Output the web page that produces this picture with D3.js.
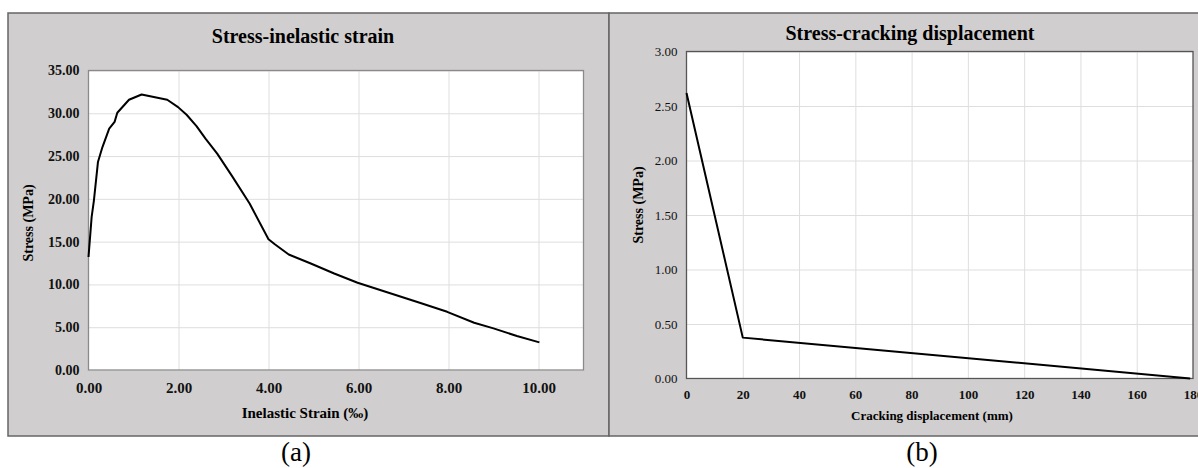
<!DOCTYPE html>
<html><head><meta charset="utf-8">
<script src="https://cdn.jsdelivr.net/npm/d3@7"></script>
<style>
html,body{margin:0;padding:0;background:#fff;}
svg{display:block;font-family:"Liberation Serif","Times New Roman",serif;}
</style></head>
<body>
<svg id="chart" width="1198" height="468"></svg>
<script>
// ---- Data: panel (a) Stress-inelastic strain ----
const strainA = [0.00,0.07,0.12,0.21,0.31,0.46,0.58,0.64,0.90,1.18,1.75,1.99,2.18,2.40,2.60,2.86,3.18,3.58,4.00,4.14,4.45,4.94,5.46,5.98,6.67,7.36,7.97,8.57,9.00,9.52,10.02];
const stressA = [13.2,17.9,19.8,24.3,26.05,28.2,29.0,30.06,31.58,32.2,31.58,30.72,29.83,28.5,27.03,25.28,22.75,19.45,15.28,14.7,13.5,12.45,11.28,10.19,9.02,7.85,6.8,5.52,4.86,3.97,3.23];
const xTicksA = [0,2,4,6,8,10];
const yTicksA = [0,5,10,15,20,25,30,35];
// ---- Data: panel (b) Stress-cracking displacement ----
const dispB = [0,20,179];
const stressB = [2.62,0.375,0];
const xTicksB = [0,20,40,60,80,100,120,140,160,180];
const yTicksB = [0,0.5,1,1.5,2,2.5,3];

const svg = d3.select("#chart");
const GRAY = "#d0cece", BORDER = "#666", GRID = "#dedede";

// panel backgrounds
svg.append("rect").attr("x",8).attr("y",13).attr("width",601).attr("height",423)
  .attr("fill",GRAY).attr("stroke",BORDER).attr("stroke-width",1.5);
svg.append("rect").attr("x",609).attr("y",13).attr("width",595).attr("height",423)
  .attr("fill",GRAY).attr("stroke",BORDER).attr("stroke-width",1.5);

function panel(o){
  const g = svg.append("g");
  const x = d3.scaleLinear().domain(o.xd).range([o.l,o.r]);
  const y = d3.scaleLinear().domain(o.yd).range([o.b,o.t]);
  g.append("rect").attr("x",o.l).attr("y",o.t).attr("width",o.r-o.l).attr("height",o.b-o.t).attr("fill","#fff");
  // grid
  g.append("g").attr("transform",`translate(0,${o.b})`)
    .call(d3.axisBottom(x).tickValues(o.xGrid).tickSize(-(o.b-o.t)).tickFormat(""))
    .call(s=>{s.select(".domain").remove(); s.selectAll("line").attr("stroke",GRID);});
  g.append("g").attr("transform",`translate(${o.l},0)`)
    .call(d3.axisLeft(y).tickValues(o.yt).tickSize(-(o.r-o.l)).tickFormat(""))
    .call(s=>{s.select(".domain").remove(); s.selectAll("line").attr("stroke",GRID);});
  // border
  g.append("rect").attr("x",o.l).attr("y",o.t).attr("width",o.r-o.l).attr("height",o.b-o.t)
    .attr("fill","none").attr("stroke",o.borderColor).attr("stroke-width",1.3);
  // tick labels
  const xa = g.append("g").attr("transform",`translate(0,${o.b})`)
    .call(d3.axisBottom(x).tickValues(o.xt).tickSize(0).tickPadding(o.xPad).tickFormat(o.xf));
  xa.select(".domain").remove();
  xa.selectAll("text").attr("font-family","Liberation Serif").attr("font-size",o.xfs).attr("font-weight","bold").attr("fill","#111");
  const ya = g.append("g").attr("transform",`translate(${o.l},0)`)
    .call(d3.axisLeft(y).tickValues(o.yt).tickSize(0).tickPadding(o.yPad).tickFormat(d3.format(".2f")));
  ya.select(".domain").remove();
  ya.selectAll("text").attr("font-family","Liberation Serif").attr("font-size",o.yfs).attr("font-weight",o.yfw).attr("fill","#111");
  // line
  const pts = o.xs.map((v,i)=>[v,o.ys[i]]);
  g.append("path").datum(pts).attr("fill","none").attr("stroke","#000").attr("stroke-width",2)
    .attr("stroke-linejoin","round")
    .attr("d",d3.line().x(d=>x(d[0])).y(d=>y(d[1])));
  // titles
  g.append("text").attr("x",o.tx).attr("y",o.ty).attr("text-anchor","middle")
    .attr("font-size",o.tfs).attr("font-weight","bold").text(o.title);
  g.append("text").attr("x",o.xtx).attr("y",o.xty).attr("text-anchor","middle")
    .attr("font-size",o.atfs).attr("font-weight","bold").text(o.xTitle);
  g.append("text").attr("transform",`translate(${o.ytx},${o.yty}) rotate(-90)`).attr("text-anchor","middle")
    .attr("font-size",o.ytfs).attr("font-weight","bold").text("Stress (MPa)");
  g.append("text").attr("x",o.lx).attr("y",461).attr("text-anchor","middle")
    .attr("font-size",27).text(o.label);
}

panel({
  xd:[0,11], yd:[0,35], l:88.5, r:583.5, t:70.5, b:370,
  xGrid:[2,4,6,8,10], xt:xTicksA, yt:yTicksA, xf:d3.format(".2f"),
  xPad:12, yPad:9, xfs:15, yfs:14, yfw:"bold", borderColor:"#8a8a8a",
  xs:strainA, ys:stressA,
  title:"Stress-inelastic strain", tx:303, ty:43, tfs:20,
  xTitle:"Inelastic Strain (‰)", xtx:305, xty:418, atfs:15, ytfs:14,
  ytx:33, yty:223, label:"(a)", lx:296
});

panel({
  xd:[0,180], yd:[0,3], l:686.5, r:1193, t:51.5, b:378.5,
  xGrid:[20,40,60,80,100,120,140,160], xt:xTicksB, yt:yTicksB, xf:d3.format("d"),
  xPad:11, yPad:9, xfs:13, yfs:13, yfw:"normal", borderColor:"#555",
  xs:dispB, ys:stressB,
  title:"Stress-cracking displacement", tx:910, ty:40, tfs:20,
  xTitle:"Cracking displacement (mm)", xtx:932, xty:420, atfs:13, ytfs:14,
  ytx:643, yty:205, label:"(b)", lx:922
});
</script>
</body></html>
